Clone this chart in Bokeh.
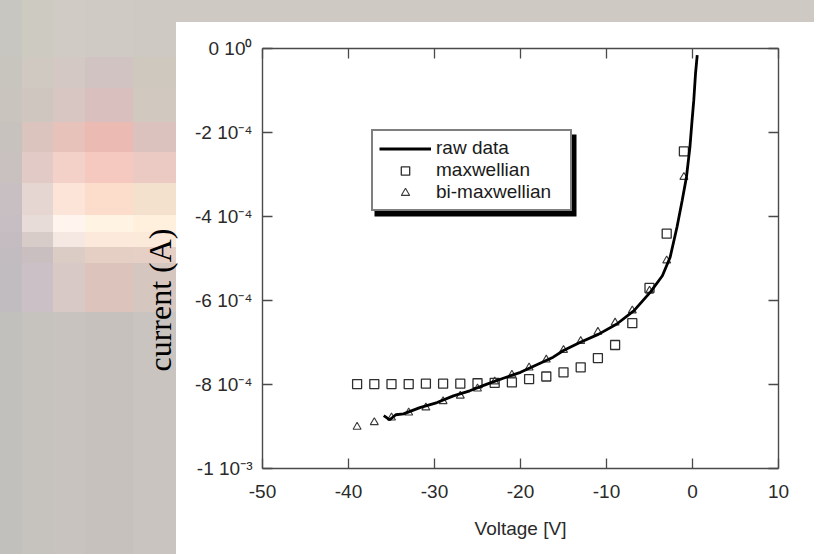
from bokeh.plotting import figure
from bokeh.models import (Range1d, FixedTicker, LinearAxis, Legend, LegendItem,
                          Title, BoxAnnotation, ColumnDataSource,
                          CustomLabelingPolicy)
from bokeh.embed import file_html
from bokeh.resources import INLINE

# Langmuir probe sweep: measured I-V characteristic and two model fits
raw_voltage = [-35.9, -35.2, -34.5, -33.6, -31.7, -29.7, -27.8, -25.9, -23.9,
               -22.0, -20.0, -18.1, -16.2, -15.0, -13.1, -10.9, -8.8, -6.8,
               -4.9, -3.5, -2.6, -1.8, -1.2, -0.7, -0.3, -0.05, 0.15, 0.35, 0.55]
raw_current = [-8.74e-4, -8.84e-4, -8.72e-4, -8.70e-4, -8.55e-4, -8.43e-4,
               -8.27e-4, -8.15e-4, -7.99e-4, -7.85e-4, -7.71e-4, -7.53e-4,
               -7.35e-4, -7.19e-4, -7.00e-4, -6.80e-4, -6.56e-4, -6.24e-4,
               -5.80e-4, -5.41e-4, -4.97e-4, -4.25e-4, -3.62e-4, -3.06e-4,
               -2.35e-4, -1.71e-4, -1.23e-4, -0.60e-4, -0.16e-4]

fit_voltage = [-39, -37, -35, -33, -31, -29, -27, -25, -23, -21,
               -19, -17, -15, -13, -11, -9, -7, -5, -3, -1]
maxwellian_current = [-7.99e-4, -7.99e-4, -7.99e-4, -7.99e-4, -7.98e-4,
                      -7.98e-4, -7.98e-4, -7.97e-4, -7.96e-4, -7.95e-4,
                      -7.87e-4, -7.81e-4, -7.71e-4, -7.59e-4, -7.37e-4,
                      -7.06e-4, -6.54e-4, -5.70e-4, -4.41e-4, -2.45e-4]
bi_maxwellian_current = [-9.01e-4, -8.90e-4, -8.79e-4, -8.67e-4, -8.55e-4,
                         -8.40e-4, -8.27e-4, -8.10e-4, -7.93e-4, -7.77e-4,
                         -7.60e-4, -7.41e-4, -7.18e-4, -6.97e-4, -6.75e-4,
                         -6.53e-4, -6.24e-4, -5.77e-4, -5.05e-4, -3.06e-4]

x_ticks = [-50, -40, -30, -20, -10, 0, 10]
x_tick_labels = ["-50", "-40", "-30", "-20", "-10", "0", "10"]
y_ticks = [-1e-3, -8e-4, -6e-4, -4e-4, -2e-4, 0.0]
y_tick_labels = ["-1 10\u207b\u00b3", "-8 10\u207b\u2074", "-6 10\u207b\u2074",
                 "-4 10\u207b\u2074", "-2 10\u207b\u2074", "0 10\u2070"]

legend_labels = ["raw data", "maxwellian", "bi-maxwellian"]

# scanned-page backdrop: coarse colour blocks on the left, white sheet on top
mosaic_cols = [0, 22, 53, 85, 133, 176]
mosaic_rows = [
    (0, 57,    ["#c8c6c0", "#cdcac2", "#d0ccc5", "#cfcbc4", "#cfc9c3"]),
    (57, 88,   ["#c7c5bd", "#cfc9c2", "#d3c8c4", "#d1c3c2", "#cfc8be"]),
    (88, 122,  ["#c9c4bd", "#d0c6c0", "#d8c6c2", "#d9c0be", "#d1c9c0"]),
    (122, 152, ["#c8c2bf", "#dcc4be", "#e6c2bb", "#eabab3", "#dcc2be"]),
    (152, 183, ["#c9c1c0", "#e2cbc6", "#f3d0c8", "#f5c9c0", "#eccac4"]),
    (183, 215, ["#c8bfc2", "#e6d6d2", "#fde4d9", "#fcdccb", "#f3e1cd"]),
    (215, 232, ["#c6bec2", "#e8dcd8", "#fff5ee", "#fff4e4", "#fff0de"]),
    (232, 247, ["#c4bcc0", "#d8ccc9", "#f5e8e2", "#fce9dc", "#fbe9da"]),
    (247, 263, ["#c2bcc0", "#c9bfc0", "#dcccc6", "#e5cfc4", "#e6d0c6"]),
    (263, 312, ["#c0bcc0", "#cbc0c5", "#d8c8c6", "#dcc4bc", "#d6c6c0"]),
    (312, 554, ["#c2c0bd", "#c6c2be", "#c8c3bf", "#c6c1bd", "#c9c4bf"]),
]
SHEET = (176, 22)          # top-left corner of the white sheet, px
PAGE_GREY = "#cfc9c4"

W, H = 814, 554
AXIS_COLOR = "#4a4a4a"
TEXT_COLOR = "#2a2a2a"
SANS = "Liberation Sans"


def block(x0, y0, x1, y1, color):
    return (f"linear-gradient({color},{color}) {x0}px {y0}px / "
            f"{x1 - x0}px {y1 - y0}px no-repeat")


layers = [block(SHEET[0], SHEET[1], W, H, "#ffffff")]
for r0, r1, colors in mosaic_rows:
    for k, col in enumerate(colors):
        layers.append(block(mosaic_cols[k], r0, mosaic_cols[k + 1], r1, col))
backdrop = ", ".join(layers) + f", {PAGE_GREY}"

p = figure(width=W, height=H, output_backend="svg", toolbar_location=None,
           x_range=Range1d(-50, 10), y_range=Range1d(-1e-3, 0),
           x_axis_type=None, y_axis_type=None,
           min_border_left=262, min_border_right=36,
           min_border_top=48, min_border_bottom=86)
p.border_fill_color = None
p.background_fill_color = None
p.outline_line_color = None
p.styles = {"background": backdrop}

no_labels = CustomLabelingPolicy(code="return new Set()")


def styled_axis(ticks, labels):
    ax = LinearAxis(ticker=FixedTicker(ticks=ticks, minor_ticks=[]))
    ax.axis_line_color = AXIS_COLOR
    ax.axis_line_width = 1.4
    ax.major_tick_line_color = AXIS_COLOR
    ax.major_tick_line_width = 1.3
    ax.major_tick_in = 10
    ax.major_tick_out = 0
    ax.minor_tick_in = 0
    ax.minor_tick_out = 0
    ax.major_label_text_font = SANS
    ax.major_label_text_color = TEXT_COLOR
    ax.major_label_text_font_size = "19px"
    if labels is None:
        ax.major_label_overrides = {t: "" for t in ticks}
        ax.major_label_policy = no_labels
    else:
        ax.major_label_overrides = dict(zip(ticks, labels))
    return ax


bottom = styled_axis(x_ticks, x_tick_labels)
bottom.major_label_standoff = 16
bottom.axis_label = "Voltage [V]"
bottom.axis_label_text_font = SANS
bottom.axis_label_text_font_style = "normal"
bottom.axis_label_text_font_size = "19px"
bottom.axis_label_text_color = TEXT_COLOR
bottom.axis_label_standoff = 17
p.add_layout(bottom, "below")

left = styled_axis(y_ticks, y_tick_labels)
left.major_label_standoff = 10
p.add_layout(left, "left")

p.add_layout(styled_axis(x_ticks, None), "above")
p.add_layout(styled_axis(y_ticks, None), "right")

# vertical axis title, set lower than the frame centre
p.add_layout(Title(text="current (A)", align="left", offset=97, standoff=30,
                   text_font="Liberation Serif", text_font_size="32px",
                   text_font_style="normal", text_color="black"), "left")

src_raw = ColumnDataSource(dict(v=raw_voltage, i=raw_current))
src_fit = ColumnDataSource(dict(v=fit_voltage, m=maxwellian_current,
                                b=bi_maxwellian_current))

r_max = p.scatter("v", "m", source=src_fit, marker="square", size=9,
                  fill_color=None, line_color="#2e2e2e", line_width=1.3)
r_bi = p.scatter("v", "b", source=src_fit, marker="triangle", size=8,
                 fill_color=None, line_color="#3a3a3a", line_width=1.1)
r_raw = p.line("v", "i", source=src_raw, line_color="black", line_width=2.8)

# drop shadow behind the legend box
p.add_layout(BoxAnnotation(left=374, right=576, top=134, bottom=216,
                           left_units="canvas", right_units="canvas",
                           top_units="canvas", bottom_units="canvas",
                           fill_color="black", fill_alpha=1.0, line_color=None))

legend = Legend(items=[LegendItem(label=lab, renderers=[r])
                       for lab, r in zip(legend_labels, [r_raw, r_max, r_bi])],
                location=(109, 257), margin=0, padding=6, spacing=0,
                glyph_width=52, glyph_height=21, label_height=21,
                label_width=128, label_standoff=5,
                label_text_font=SANS, label_text_font_size="19px",
                label_text_color="#1a1a1a",
                border_line_color="black", border_line_width=2,
                background_fill_color="white", background_fill_alpha=1.0)
p.add_layout(legend)

open("out.html", "w").write(file_html(p, INLINE))
